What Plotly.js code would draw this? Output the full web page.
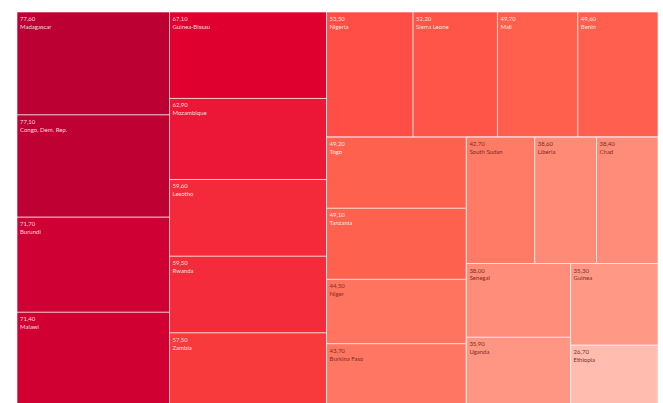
<!DOCTYPE html>
<html>
<head>
<meta charset="utf-8">
<script src="https://cdn.plot.ly/plotly-3.0.1.min.js"></script>
<style>
html,body{margin:0;padding:0;background:#fff;overflow:hidden;width:663px;height:403px;}
#chart{width:663px;height:412px;}
</style>
</head>
<body>
<div id="chart"></div>
<script>
const countries = ["Madagascar","Congo, Dem. Rep.","Burundi","Malawi","Guinea-Bissau","Mozambique","Lesotho","Rwanda","Zambia","Nigeria","Sierra Leone","Mali","Benin","Togo","Tanzania","Niger","Burkina Faso","South Sudan","Liberia","Chad","Senegal","Uganda","Guinea","Ethiopia"];
const values = [77.6,77.1,71.7,71.4,67.1,62.9,59.6,59.5,57.5,53.5,52.2,49.7,49.6,49.2,49.1,44.5,43.7,42.7,38.6,38.4,38.0,35.9,35.3,26.7];

// Tile grouping as arranged in the reference (group id -> parent group id)
const groups = [
  ["g1", ""], ["g2", ""], ["r1", ""],
  ["rowA", "r1"], ["r2", "r1"],
  ["col3", "r2"], ["r3", "r2"],
  ["rowB", "r3"], ["r4", "r3"],
  ["colC", "r4"], ["colD", "r4"]
];
const groupOf = ["g1","g1","g1","g1","g2","g2","g2","g2","g2","rowA","rowA","rowA","rowA","col3","col3","col3","col3","rowB","rowB","rowB","colC","colC","colD","colD"];

const vmin = Math.min(...values), vmax = Math.max(...values);
const scaleStops = [
  [26.7,"#FFBCAF"],[35.5,"#FF9885"],[38.3,"#FF8C78"],[43.7,"#FF7762"],
  [49.4,"#FF604E"],[53.5,"#FF4E45"],[57.5,"#F83A3C"],[59.6,"#F42A3A"],
  [62.9,"#EC1636"],[67.1,"#E0002F"],[71.5,"#D00033"],[77.6,"#BC0033"]
];
const colorscale = scaleStops.map(s => [(s[0]-vmin)/(vmax-vmin), s[1]]);

const ids = groups.map(g => g[0]).concat(countries);
const labels = groups.map(() => "").concat(countries);
const parents = groups.map(g => g[1]).concat(groupOf);
const vals = groups.map(() => 0).concat(values);
const cols = groups.map(() => vmin).concat(values);
const templates = groups.map(() => "").concat(countries.map(() => "%{value:.2f}<br>%{label}"));
const textColors = groups.map(() => "#fff").concat(values.map(v => v >= 47 ? "rgba(255,255,255,0.85)" : "#7d2e26"));

Plotly.newPlot("chart", [{
  type: "treemap",
  ids: ids,
  labels: labels,
  parents: parents,
  values: vals,
  sort: false,
  branchvalues: "remainder",
  tiling: {packing: "slice-dice", pad: 0},
  marker: {
    colors: cols,
    colorscale: colorscale,
    cmin: vmin, cmax: vmax,
    showscale: false,
    line: {color: "rgba(255,255,255,0.6)", width: 1},
    pad: {t: 0, l: 0, r: 0, b: 0}
  },
  pathbar: {visible: false},
  texttemplate: templates,
  textposition: "top left",
  textfont: {family: "Lato, 'Open Sans', sans-serif", size: 6, color: textColors},
  hoverinfo: "skip"
}], {
  width: 663, height: 412,
  margin: {l: 17, r: 5, t: 12, b: 5},
  separators: ",.",
  paper_bgcolor: "#fff",
  showlegend: false
}, {displayModeBar: false, staticPlot: true});
</script>
</body>
</html>
